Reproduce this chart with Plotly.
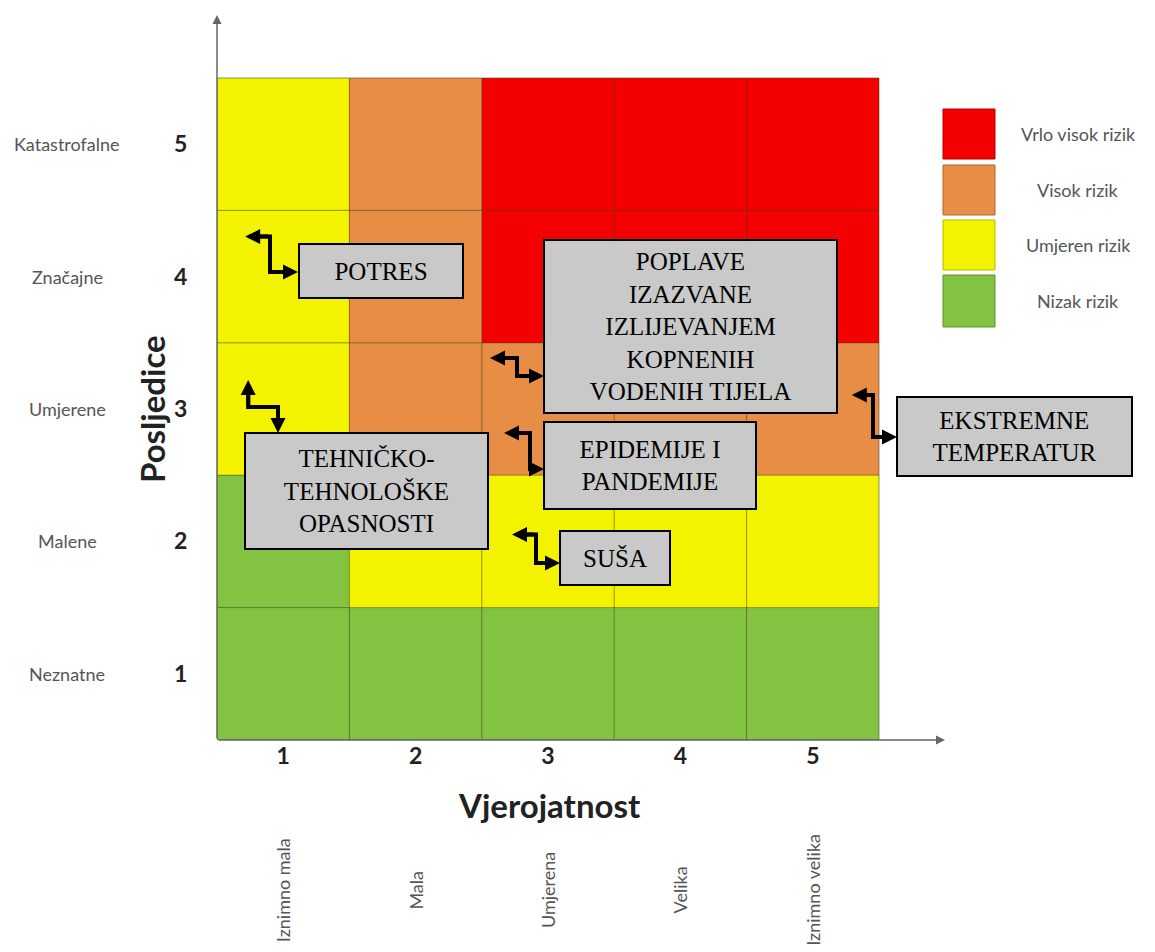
import plotly.graph_objects as go

# ---------------- data ----------------
probability = [1, 2, 3, 4, 5]
consequence = [1, 2, 3, 4, 5]
probability_labels = ["Iznimno mala", "Mala", "Umjerena", "Velika", "Iznimno velika"]
consequence_labels = ["Neznatne", "Malene", "Umjerene", "Značajne", "Katastrofalne"]
# risk level per cell: rows = consequence 1..5, cols = probability 1..5
risk_level = [
    [1, 1, 1, 1, 1],
    [1, 2, 2, 2, 2],
    [2, 3, 3, 3, 3],
    [2, 3, 4, 4, 4],
    [2, 3, 4, 4, 4],
]
risk_names = ["Nizak rizik", "Umjeren rizik", "Visok rizik", "Vrlo visok rizik"]

hazards = ["POTRES", "TEHNIČKO-<br>TEHNOLOŠKE<br>OPASNOSTI",
           "POPLAVE<br>IZAZVANE<br>IZLIJEVANJEM<br>KOPNENIH<br>VODENIH TIJELA",
           "EPIDEMIJE I<br>PANDEMIJE", "SUŠA", "EKSTREMNE<br>TEMPERATUR"]
hazard_probability = [1, 1, 3, 3, 3, 5]
hazard_consequence = [4, 3, 3, 3, 2, 3]

# ---------------- layout helpers (page-pixel placement) ----------------
PAGE_OFF = 8                      # browser body margin
W, H = 1155 - PAGE_OFF, 952 - PAGE_OFF
GX0, GY1 = 217, 740               # page px of grid left / bottom edge
L = GX0 - PAGE_OFF
B = H - (GY1 - PAGE_OFF)
S = 132.4                         # pixels per cell
XR = [0.5, 0.5 + (W - L) / S]
YR = [0.5, 0.5 + (H - B) / S]


def dx(px):
    return 0.5 + (px - GX0) / S


def dy(py):
    return 0.5 + (GY1 - py) / S


def pxp(px):
    return (px - GX0) / (W - L)


def pyp(py):
    return (GY1 - py) / (H - B)


risk_colors = ["#82C341", "#F3F300", "#E88D45", "#F40000"]
risk_borders = ["#5E8F2E", "#B8B800", "#B0672F", "#B00000"]

# annotation layout: tip offset (px from cell centre), elbow1, elbow2, end (page px), box rect
tip_off = [(-38, -40), (-35, -29), (-58, -51), (-44, 24), (-36, -7), (39, -14)]
elbow1 = [(270, None), (None, 407), (517, None), (530, None), (536, None), (873, None)]
elbow2 = [(270, 272), (278, 407), (517, 376), (530, 469), (536, 563), (873, 437)]
ends = [(298, 272), (278, 433), (544, 376), (544, 469), (560, 563), (897, 437)]
boxes = [(299, 244, 463, 298), (245, 433, 488, 549), (544, 240, 837, 413),
         (544, 422, 756, 509), (560, 531, 670, 585), (897, 397, 1132, 476)]

fig = go.Figure()

n = len(risk_colors)
cs = []
for i, c in enumerate(risk_colors):
    cs.append([i / n, c])
    cs.append([(i + 1) / n, c])

fig.add_trace(go.Heatmap(
    x=probability, y=consequence, z=risk_level,
    zmin=0.5, zmax=4.5, colorscale=cs, showscale=False,
    hoverinfo="skip"))

shapes = []
# grid lines
for k in range(len(probability) + 1):
    v = 0.5 + k
    shapes.append(dict(type="line", xref="x", yref="y", x0=v, x1=v, y0=0.5, y1=len(consequence) + 0.5,
                       line=dict(color="rgba(70,60,30,0.55)", width=1), layer="above"))
for k in range(len(consequence) + 1):
    v = 0.5 + k
    shapes.append(dict(type="line", xref="x", yref="y", y0=v, y1=v, x0=0.5, x1=len(probability) + 0.5,
                       line=dict(color="rgba(70,60,30,0.55)", width=1), layer="above"))

annotations = []

# axis arrows
annotations.append(dict(x=0.5, y=dy(15), ax=0.5, ay=0.5, xref="x", yref="y", axref="x", ayref="y",
                        text="", showarrow=True, arrowhead=2, arrowsize=1.2, arrowwidth=1.5,
                        arrowcolor="#666666"))
annotations.append(dict(x=dx(945), y=0.5, ax=0.5, ay=0.5, xref="x", yref="y", axref="x", ayref="y",
                        text="", showarrow=True, arrowhead=2, arrowsize=1.2, arrowwidth=1.5,
                        arrowcolor="#666666"))

# hazard boxes and connectors
for i, name in enumerate(hazards):
    cx = GX0 + (hazard_probability[i] - 0.5) * S
    cy = GY1 - (hazard_consequence[i] - 0.5) * S
    tip = (cx + tip_off[i][0], cy + tip_off[i][1])
    e1 = (elbow1[i][0] if elbow1[i][0] is not None else tip[0],
          elbow1[i][1] if elbow1[i][1] is not None else tip[1])
    e2 = elbow2[i]
    end = ends[i]
    path = "M {} {} L {} {} L {} {} L {} {}".format(
        dx((tip[0] + e1[0]) / 2), dy((tip[1] + e1[1]) / 2),
        dx(e1[0]), dy(e1[1]), dx(e2[0]), dy(e2[1]),
        dx((e2[0] + end[0]) / 2), dy((e2[1] + end[1]) / 2))
    shapes.append(dict(type="path", xref="x", yref="y", path=path,
                       line=dict(color="black", width=4), layer="above"))
    annotations.append(dict(x=dx(tip[0]), y=dy(tip[1]), ax=dx(e1[0]), ay=dy(e1[1]),
                            xref="x", yref="y", axref="x", ayref="y", text="", showarrow=True,
                            arrowhead=2, arrowsize=0.75, arrowwidth=4, arrowcolor="black"))
    annotations.append(dict(x=dx(end[0]), y=dy(end[1]), ax=dx(e2[0]), ay=dy(e2[1]),
                            xref="x", yref="y", axref="x", ayref="y", text="", showarrow=True,
                            arrowhead=2, arrowsize=0.75, arrowwidth=4, arrowcolor="black"))
    x0, y0, x1, y1 = boxes[i]
    annotations.append(dict(x=dx((x0 + x1) / 2), y=dy((y0 + y1) / 2), xref="x", yref="y",
                            text=name, showarrow=False, align="center",
                            xanchor="center", yanchor="middle",
                            width=x1 - x0 - 2, height=y1 - y0 - 2, borderpad=0,
                            bgcolor="#C9C9C9", bordercolor="black", borderwidth=2,
                            font=dict(family="Liberation Serif", size=25, color="black")))

# legend
leg_rows = [(109, 159), (165, 215), (220, 270), (275, 327)]
for j in range(len(risk_names)):
    lvl = len(risk_names) - 1 - j
    y0, y1 = leg_rows[j]
    shapes.append(dict(type="rect", xref="x", yref="y", x0=dx(943), x1=dx(995), y0=dy(y1), y1=dy(y0),
                       fillcolor=risk_colors[lvl], line=dict(color=risk_borders[lvl], width=1),
                       layer="above"))
    annotations.append(dict(x=dx(1078), y=dy((y0 + y1) / 2), xref="x", yref="y",
                            text=risk_names[lvl], showarrow=False, xanchor="center",
                            yanchor="middle",
                            font=dict(family="Lato", size=18, color="#555555")))

# category labels
for k, lab in enumerate(consequence_labels):
    annotations.append(dict(x=pxp(67), y=consequence[k], xref="paper", yref="y", text=lab,
                            showarrow=False, xanchor="center", yanchor="middle",
                            font=dict(family="Lato", size=18, color="#555555")))
for k, lab in enumerate(probability_labels):
    annotations.append(dict(x=probability[k], y=pyp(890), xref="x", yref="paper", text=lab,
                            showarrow=False, textangle=-90, xanchor="center", yanchor="middle",
                            font=dict(family="Lato", size=18, color="#555555")))

# axis titles
annotations.append(dict(x=pxp(152), y=3, xref="paper", yref="y", text="<b>Posljedice</b>",
                        showarrow=False, textangle=-90, xanchor="center", yanchor="middle",
                        font=dict(family="Lato", size=33, color="#222222")))
annotations.append(dict(x=dx(549), y=pyp(805), xref="x", yref="paper", text="<b>Vjerojatnost</b>",
                        showarrow=False, xanchor="center", yanchor="middle",
                        font=dict(family="Lato", size=33, color="#222222")))

fig.update_layout(
    width=W, height=H,
    margin=dict(l=L, r=0, t=0, b=B),
    paper_bgcolor="white", plot_bgcolor="white",
    shapes=shapes, annotations=annotations,
    xaxis=dict(range=XR, tickvals=probability, ticktext=[f"<b>{p}</b>" for p in probability],
               showgrid=False, zeroline=False, showline=False, ticks="",
               tickfont=dict(family="Lato", size=23, color="#222222"),
               fixedrange=True),
    yaxis=dict(range=YR, tickvals=consequence, ticktext=[f"<b>{c}</b>" for c in consequence],
               showgrid=False, zeroline=False, showline=False, ticks="outside", ticklen=24,
               tickcolor="rgba(0,0,0,0)", tickfont=dict(family="Lato", size=23, color="#222222"),
               fixedrange=True),
    showlegend=False,
)

fig.write_html("out.html")
